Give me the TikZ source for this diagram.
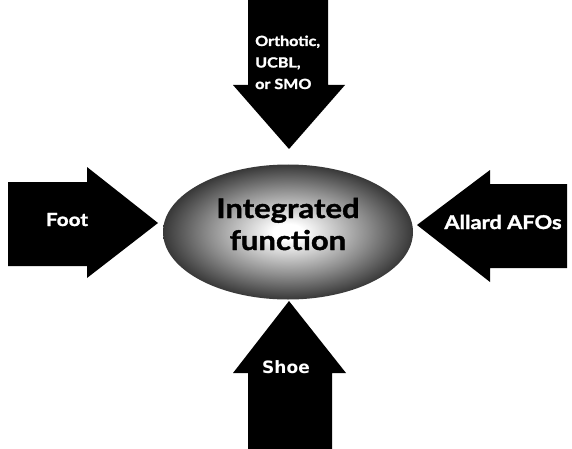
\documentclass[tikz,border=0pt]{standalone}
\usepackage{fontspec}
\setmainfont{Lato}[BoldFeatures={FakeBold=1.5,FakeStretch=1.15}]
\newfontfamily\verdanalike{DejaVu Sans}
\usetikzlibrary{shapes.geometric}
\pgfdeclareradialshading{ballshade}{\pgfpoint{0bp}{0bp}}{color(0bp)=(white); color(3bp)=(white); color(16bp)=(black!45); color(25bp)=(black!78); color(50bp)=(black!78)}
\begin{document}
\begin{tikzpicture}[x=1pt,y=-1pt,
  arrowshape/.style={fill=black,draw=none},
  arrowlabel/.style={text=white,font=\bfseries,inner sep=0pt,anchor=base},
  core/.style={ellipse,shade,shading=ballshade,draw=none,minimum width=250pt,minimum height=135pt,inner sep=0pt}]
\useasboundingbox (0,0) rectangle (572,449);
% top arrow
\fill[arrowshape] (248,0) -- (328,0) -- (328,85) -- (345,85) -- (289,149) -- (233,85) -- (248,85) -- cycle;
% left arrow
\fill[arrowshape] (8,182) -- (87,182) -- (87,167) -- (158,223) -- (87,278) -- (87,266) -- (8,266) -- cycle;
% right arrow
\fill[arrowshape] (567,184) -- (490,184) -- (490,170) -- (417,225) -- (490,282) -- (490,268) -- (567,268) -- cycle;
% bottom arrow
\fill[arrowshape] (248,449) -- (332,449) -- (332,373) -- (346,373) -- (289,301) -- (233,373) -- (248,373) -- cycle;
% center
\node[core] (center) at (288,232) {};
\node[anchor=base,inner sep=0pt,align=center,font=\bfseries\fontsize{27}{32}\selectfont] (centertext) at (288,250) {Integrated\\function};
% labels
\node[arrowlabel,align=left,font=\bfseries\fontsize{14}{21.5}\selectfont,anchor=base west] (top) at (255,89) {Orthotic,\\UCBL,\\or SMO};
\node[arrowlabel,font=\bfseries\fontsize{18}{20}\selectfont] (foot) at (67,226) {Foot};
\node[arrowlabel,font=\bfseries\fontsize{19}{21}\selectfont] (allard) at (503,229) {Allard AFOs};
\node[arrowlabel,font=\verdanalike\bfseries\fontsize{17}{19}\selectfont] (shoe) at (286,373) {Shoe};
\end{tikzpicture}
\end{document}
